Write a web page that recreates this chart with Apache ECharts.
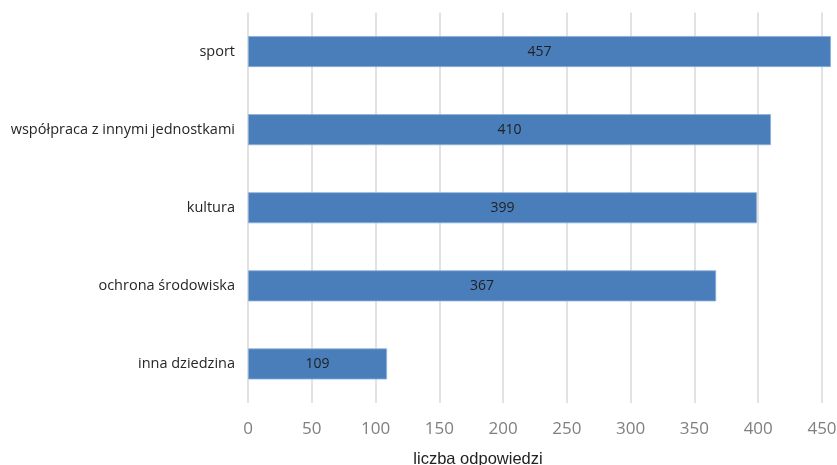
<!DOCTYPE html>
<html>
<head>
<meta charset="utf-8">
<script src="https://cdn.jsdelivr.net/npm/echarts@6/dist/echarts.min.js"></script>
<style>
  html, body { margin: 0; padding: 0; background: #fff; }
  #chart { width: 837px; height: 465px; }
</style>
</head>
<body>
<div id="chart"></div>
<script>
// categories listed bottom to top (category axis on y)
var categories = ['inna dziedzina', 'ochrona środowiska', 'kultura', 'współpraca z innymi jednostkami', 'sport'];
var answers = [109, 367, 399, 410, 457];
var axisTitle = 'liczba odpowiedzi';

window.onload = function() {
    var chart = echarts.init(document.getElementById('chart'));

    var option = {
        animation: false,
        grid: {
            left: 248,
            right: 15,
            top: 12.5,
            bottom: 62,
            outerBoundsMode: 'none'
        },
        xAxis: {
            type: 'value',
            min: 0,
            max: 450,
            interval: 50,
            name: axisTitle,
            nameLocation: 'middle',
            nameGap: 48,
            nameTextStyle: {
                fontFamily: 'Liberation Sans',
                fontSize: 16.5,
                color: '#222',
                padding: [0, 114, 0, 0]
            },
            axisLine: { show: false },
            axisTick: { show: false },
            axisLabel: {
                fontFamily: 'Open Sans',
                fontSize: 17,
                color: '#7f7f7f',
                margin: 18
            },
            splitLine: {
                lineStyle: { color: '#d9d9d9', width: 1.5 }
            }
        },
        yAxis: {
            type: 'category',
            data: categories,
            axisLine: { show: false },
            axisTick: { show: false },
            axisLabel: {
                fontFamily: 'Open Sans',
                fontSize: 14.5,
                color: '#262626',
                margin: 13
            }
        },
        series: [
            {
                type: 'bar',
                data: answers,
                barWidth: 31,
                clip: false,
                itemStyle: {
                    color: '#4a7ebb',
                    borderColor: '#8db0dc',
                    borderWidth: 0.8
                },
                label: {
                    show: true,
                    position: 'inside',
                    fontFamily: 'Open Sans',
                    fontSize: 14,
                    color: '#1f1f1f'
                }
            }
        ]
    };

    chart.setOption(option);
}
</script>
</body>
</html>
